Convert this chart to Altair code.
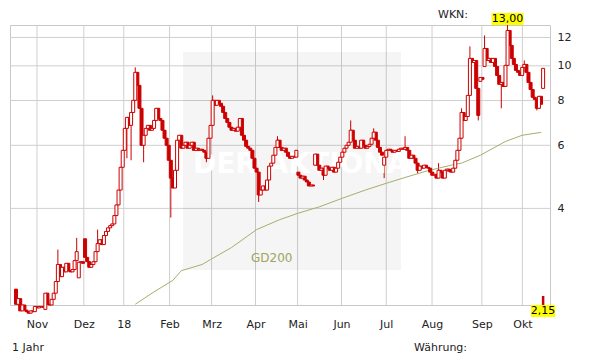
import altair as alt
import pandas as pd

# daily closing prices (EUR), one per trading day, Oct 2017 - Oct 2018
closes = [
    2.16, 2.24, 2.07, 2.15, 2.08, 2.06, 2.04, 2.07, 2.06, 2.13,
    2.11, 2.13, 2.12, 2.13, 2.32, 2.16, 2.15, 2.23, 2.32, 2.50,
    2.79, 2.58, 2.74, 2.66, 2.81, 2.68, 2.66, 2.70, 2.86, 3.03,
    2.83, 2.84, 2.81, 2.92, 2.84, 2.74, 2.79, 2.84, 3.03, 3.19,
    3.27, 3.17, 3.36, 3.45, 3.53, 3.58, 3.62, 3.82, 4.09, 4.50,
    5.21, 5.81, 6.69, 7.18, 6.82, 7.41, 8.01, 9.59, 8.82, 7.61,
    6.00, 6.40, 6.69, 6.82, 6.61, 6.69, 7.04, 7.61, 7.13, 7.04,
    6.61, 6.28, 6.00, 5.45, 4.86, 4.56, 5.11, 6.20, 6.40, 5.89,
    6.00, 6.12, 5.89, 6.00, 6.12, 5.81, 5.89, 5.81, 5.85, 5.81,
    5.74, 5.52, 6.28, 6.82, 8.01, 7.76, 8.01, 7.86, 7.71, 7.41,
    7.13, 6.95, 6.74, 6.61, 6.69, 6.57, 6.74, 7.13, 6.40, 6.20,
    5.96, 5.89, 5.81, 5.52, 5.18, 5.05, 4.36, 4.50, 4.62, 4.50,
    4.80, 5.25, 5.35, 5.63, 5.92, 6.20, 5.92, 5.81, 5.89, 5.74,
    5.59, 5.52, 5.59, 5.56, 5.81, 4.95, 4.86, 4.92, 4.80, 4.74,
    4.62, 4.65, 4.62, 5.67, 5.28, 5.11, 5.18, 4.95, 5.25, 5.18,
    5.11, 5.21, 5.05, 5.18, 5.38, 5.56, 5.74, 5.89, 6.00, 6.12,
    6.61, 6.20, 5.89, 5.96, 5.89, 6.20, 6.00, 5.89, 5.96, 6.04,
    6.28, 6.53, 6.20, 5.92, 5.74, 5.63, 5.56, 5.81, 5.85, 5.81,
    5.74, 5.81, 5.77, 5.85, 5.89, 5.85, 5.92, 5.81, 5.52, 5.63,
    5.52, 5.35, 5.11, 5.25, 5.18, 5.28, 5.21, 5.18, 5.05, 4.95,
    4.98, 4.86, 5.11, 5.05, 4.86, 5.11, 5.15, 5.08, 5.05, 5.18,
    5.45, 5.81, 6.28, 7.41, 7.04, 7.22, 8.27, 10.49, 10.22, 10.35,
    8.65, 7.27, 9.28, 9.17, 11.18, 10.35, 10.49, 10.22, 10.49, 9.96,
    9.40, 8.88, 8.99, 8.76, 10.03, 12.55, 11.40, 10.49, 10.09, 9.71,
    9.59, 9.40, 9.90, 10.09, 9.59, 8.99, 8.59, 8.17, 8.06, 7.61,
    8.22, 7.81, 9.84,
]
# opening prices that differ from the previous close (gaps)
open_gaps = {0: 2.38, 14: 2.09, 30: 2.56, 33: 3.29, 135: 5.05, 143: 5.28,
             176: 5.28, 222: 9.05, 224: 9.96, 252: 8.65}
# intraday highs / lows beyond the candle body
high_wicks = {20: 3.07, 29: 3.31, 39: 3.49, 57: 9.90, 94: 8.27, 125: 6.36,
              160: 7.04, 171: 6.69, 186: 6.36, 202: 5.35, 213: 7.61,
              217: 11.33, 224: 12.15, 235: 13.00, 243: 10.35}
low_wicks = {53: 5.52, 55: 5.45, 61: 5.38, 74: 3.77, 91: 5.38, 116: 4.17,
             147: 4.80, 176: 4.86, 192: 5.01, 221: 7.04, 232: 7.61, 249: 7.51}

# 200-day average (trading-day index, value)
gd_day = [57, 65, 75, 79, 89, 93, 103, 115, 126, 135, 145, 156, 167, 177,
          186, 196, 202, 208, 213, 222, 234, 242, 251]
gd_value = [2.16, 2.32, 2.52, 2.68, 2.79, 2.88, 3.11, 3.49, 3.72, 3.88, 4.04,
            4.27, 4.50, 4.70, 4.88, 5.08, 5.18, 5.28, 5.35, 5.63, 6.15, 6.40,
            6.52]

month_labels = ["Nov", "Dez", "18", "Feb", "Mrz", "Apr", "Mai", "Jun",
                "Jul", "Aug", "Sep", "Okt"]
month_ticks = [10.5, 32.9, 52.0, 73.9, 94.0, 115.0, 135.1, 156.1, 177.5,
               199.4, 223.2, 242.6]
y_ticks = [4, 6, 8, 10, 12]

max_label = {"day": 235, "value": 13.00, "text": "13,00"}
min_label = {"day": 252, "value": 2.15, "text": "2,15"}

rows = []
prev = None
for i, c in enumerate(closes):
    o = open_gaps.get(i, prev if prev is not None else c)
    rows.append({
        "pos": i + 0.5, "open": o, "close": c,
        "high": high_wicks.get(i, max(o, c)),
        "low": low_wicks.get(i, min(o, c)),
        "up": bool(c >= o),
    })
    prev = c
df = pd.DataFrame(rows)
gd = pd.DataFrame({"pos": [d + 0.5 for d in gd_day], "value": gd_value})
mx = pd.DataFrame([{"pos": max_label["day"] + 0.5, "value": max_label["value"], "text": max_label["text"]}])
mn = pd.DataFrame([{"pos": min_label["day"] + 0.5, "value": min_label["value"], "text": min_label["text"]}])
xgrid = pd.DataFrame({"pos": month_ticks})
ygrid = pd.DataFrame({"value": y_ticks})
one = pd.DataFrame([{"a": 1}])

RED = "#cc0000"
FONT = "DejaVu Sans"
GRID = "#cfcfcf"
xs = alt.Scale(domain=[0, 253.4], nice=False, zero=False)
ys = alt.Scale(type="log", domain=[2.15, 13.0], nice=False)

label_expr = "[" + ",".join("'%s'" % m for m in month_labels) + "][indexof([" + \
    ",".join(str(t) for t in month_ticks) + "], datum.value)]"

x_axis = alt.Axis(values=month_ticks, labelExpr=label_expr, grid=False,
                  ticks=False, tickSize=0, domain=False, labelPadding=13, labelFont=FONT,
                  labelFontSize=11, labelColor="#222", title=None, labelFlush=False,
                  labelOverlap=False)
y_axis = alt.Axis(orient="right", values=y_ticks, format="d", grid=False,
                  ticks=False, tickSize=0, domain=False, labelPadding=7, labelFont=FONT,
                  labelFontSize=11, labelColor="#222", title=None, labelAlign="left")


def X(field):
    return alt.X(field, scale=xs, axis=x_axis, title=None)


def Y(field):
    return alt.Y(field, scale=ys, axis=y_axis, title=None)


grid_v = alt.Chart(xgrid).mark_rule(color=GRID, strokeWidth=1).encode(
    x=X("pos:Q"), y=alt.value(0), y2=alt.value(280))
grid_h = alt.Chart(ygrid).mark_rule(color=GRID, strokeWidth=1).encode(
    y=Y("value:Q"), x=alt.value(0), x2=alt.value(540))

watermark_box = alt.Chart(one).mark_rect(fill="black", opacity=0.04).encode(
    x=alt.value(173), x2=alt.value(391), y=alt.value(27), y2=alt.value(245))
watermark_text = alt.Chart(one).mark_text(
    text="DER AKTIONÄR", font=FONT, fontSize=28, fontWeight="bold", color="white",
    align="left", baseline="alphabetic").encode(x=alt.value(183), y=alt.value(148))

wicks = alt.Chart(df).mark_rule(color=RED, strokeWidth=1).encode(
    x=X("pos:Q"), y=Y("low:Q"), y2="high:Q")

down = alt.Chart(df).transform_filter("!datum.up").mark_bar(
    size=3, fill=RED, stroke=RED, strokeWidth=1).encode(
    x=X("pos:Q"), y=Y("open:Q"), y2="close:Q")
up = alt.Chart(df).transform_filter("datum.up").mark_bar(
    size=3, fill="white", stroke=RED, strokeWidth=1).encode(
    x=X("pos:Q"), y=Y("open:Q"), y2="close:Q")

gd_line = alt.Chart(gd).mark_line(color="#a8ad6c", strokeWidth=1).encode(
    x=X("pos:Q"), y=Y("value:Q"))
gd_text = alt.Chart(one).mark_text(
    text="GD200", font=FONT, fontSize=12, color="#9fa45e", align="left",
    baseline="alphabetic").encode(x=alt.value(241), y=alt.value(237))

max_box = alt.Chart(mx).mark_rect(width=32, height=12, color="#ffff00", yOffset=-6).encode(
    x=X("pos:Q"), y=Y("value:Q"))
max_txt = alt.Chart(mx).mark_text(font=FONT, fontSize=11, color="black", baseline="middle",
                                  dy=-6).encode(x=X("pos:Q"), y=Y("value:Q"), text="text:N")
min_tick = alt.Chart(mn).mark_rule(color=RED, strokeWidth=2.5).encode(
    x=X("pos:Q"), y=Y("value:Q"), y2=alt.value(271))
min_box = alt.Chart(mn).mark_rect(width=24, height=12, color="#ffff00", yOffset=6).encode(
    x=X("pos:Q"), y=Y("value:Q"))
min_txt = alt.Chart(mn).mark_text(font=FONT, fontSize=11, color="black", baseline="middle",
                                  dy=6).encode(x=X("pos:Q"), y=Y("value:Q"), text="text:N")


def page_text(t, x, y):
    return alt.Chart(one).mark_text(text=t, font=FONT, fontSize=11, color="#222",
                                    align="left", baseline="alphabetic").encode(
        x=alt.value(x), y=alt.value(y))


chart = alt.layer(
    grid_v, grid_h, wicks, watermark_box, watermark_text, gd_line, gd_text, down, up,
    max_box, max_txt, min_tick, min_box, min_txt,
    page_text("WKN:", 428, -7), page_text("1 Jahr", 2, 326),
    page_text("Währung:", 404, 326),
).properties(
    width=540, height=280, autosize="none",
    padding={"left": 2, "top": 17, "right": 53, "bottom": 51},
    background="white",
).configure_view(stroke="#c8c8c8", strokeWidth=1)

chart.save("out.html", embed_options={"renderer": "svg", "actions": False})
